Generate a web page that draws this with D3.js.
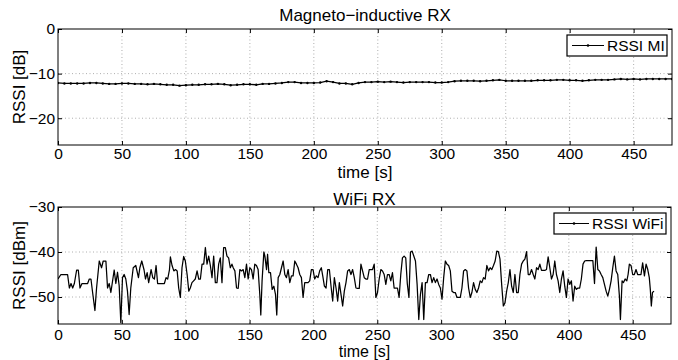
<!DOCTYPE html>
<html><head><meta charset="utf-8">
<script src="https://cdn.jsdelivr.net/npm/d3@7"></script>
<style>
body{margin:0;background:#fff;}
svg text{font-family:"Liberation Sans",Arial,Helvetica,sans-serif;fill:#000;}
</style></head>
<body><svg id="c" width="678" height="360"></svg>
<script>
// ---- data ----
const miTime = [0,5,10,15,20,25,30,35,40,45,50,55,60,65,70,75,80,85,90,95,100,105,110,115,120,125,130,135,140,145,150,155,160,165,170,175,180,185,190,195,200,205,210,215,220,225,230,235,240,245,250,255,260,265,270,275,280,285,290,295,300,305,310,315,320,325,330,335,340,345,350,355,360,365,370,375,380,385,390,395,400,405,410,415,420,425,430,435,440,445,450,455,460,465,470,475,480];
const miRssi = [-12.1,-12.2,-12.2,-12.2,-12.2,-12.1,-12.1,-12.2,-12.3,-12.3,-12.2,-12.2,-12.3,-12.3,-12.4,-12.3,-12.4,-12.5,-12.5,-12.7,-12.6,-12.5,-12.5,-12.4,-12.4,-12.3,-12.4,-12.6,-12.5,-12.4,-12.4,-12.5,-12.3,-12.3,-12.2,-12.1,-11.9,-11.9,-12.1,-12.1,-12.1,-12.0,-11.7,-11.9,-12.2,-12.2,-12.4,-12.1,-11.9,-11.9,-11.8,-11.9,-11.8,-11.9,-12.0,-11.9,-11.9,-11.9,-11.9,-12.0,-12.0,-11.9,-11.7,-11.6,-11.6,-11.6,-11.7,-11.6,-11.5,-11.4,-11.6,-11.6,-11.6,-11.6,-11.6,-11.5,-11.5,-11.5,-11.4,-11.4,-11.5,-11.5,-11.6,-11.5,-11.4,-11.4,-11.4,-11.3,-11.2,-11.3,-11.2,-11.3,-11.2,-11.2,-11.2,-11.2,-11.2];

const wifiTime = [0,2.3,5,7.5,8.9,10.2,11.5,12.8,14.6,15.9,17.2,18.8,20.6,23.2,24.5,25.8,27.1,28.9,30.2,32.3,34.1,35.4,37.5,38.8,40.1,41.4,42.7,44,45.3,46.6,47.9,49.2,50.5,51.8,53.1,54.4,55.7,57,58.9,60.9,63,64.1,65.6,67.4,
68.5,69.8,71,72.9,74.2,75.5,76.8,78,80.2,83.3,84.6,85.9,87.3,88,89.3,90.7,92,93.3,94.5,95.8,97.1,98.4,99.7,101.1,102.4,103.6,104.9,106.2,107.5,108.9,110.2,111.5,112.8,114.1,115.4,116.7,118,119.3,120.6,121.9,123.2,124.5,125.8,127.1,128.4,129.7,131,132.3,133.6,134.9,136.2,
137.2,138.5,139.8,141.1,142.4,143.7,145,146.3,147.6,148.9,150.2,151.5,152.8,154.1,155.4,156.7,158,158.8,159.8,161.2,162,163.3,164.1,165.1,166.4,167.7,169,170.3,171.3,172.4,173.7,175,176.3,177.6,178.9,180.2,181.5,182.8,184.1,185.4,186.7,188,189.3,190.6,191.9,193.2,194.5,195.8,197.1,198.4,199.7,201,202.3,203.6,204.9,206.2,
207.3,208.6,209.9,211.2,212.5,213.8,215.1,216.4,217.7,219,220.3,221.6,222.9,224.2,225.5,226.8,228.1,229.4,230.7,232,233.3,234.6,235.9,237.2,238.5,239.8,241.1,242.4,243.7,245,246.3,247.6,248.9,250.2,251.5,252.8,254.1,255.4,256.7,258,259.3,260.6,261.9,263.2,264.5,265.8,267.1,268.4,269.7,271,272.3,
273.5,274.8,276,277.3,278.6,279.9,281.2,282.5,283.8,285.1,286.4,287.7,289,290.3,291.6,292.9,294.2,295.5,296.8,298.1,299.4,300.7,302,303.3,304.6,305.9,307.2,308.5,309.8,311.1,312.4,313.7,315,316.3,317.6,318.9,320.2,321.5,322.8,324.1,325.4,326.7,328,329.3,330.6,331.9,333.2,334.5,335.8,337.1,338.4,339.7,341,342.3,343.6,
344.8,346.1,347.4,348.7,350,351.3,352.6,353.9,355.2,356.5,357.8,359.1,360.4,361.7,363,364.3,365.6,366.9,368.2,369.5,370.8,372.1,373.4,374.7,376,377.3,378.6,379.9,381.2,382.5,383.8,385.1,386.4,387.7,389,390.3,391.6,392.9,394.2,395.5,396.8,398.1,399.4,400.7,402,403.3,404.6,405.9,407.2,408.5,409.8,411.1,412.4,
413.6,414.9,416.2,417.5,418.8,420.1,421.4,422.7,424,425.3,426.6,427.9,429.2,430.5,431.8,433.1,434.4,435.7,437,438.3,439.6,440.4,441.7,442.8,444.1,445.4,446.4,447.4,448.7,450,451.3,452.6,453.9,455.2,456.5,457.8,459.2,460.5,461.8,463,463.8,464.6,465.5,466.7];
const wifiRssi = [-46,-45,-45,-45,-48,-47,-48,-47,-44,-44,-48,-47,-47,-47,-46,-46,-49,-53,-48,-42,-43.5,-42,-42,-48,-47,-49,-46.5,-44,-47,-44.5,-47.5,-55.7,-45.7,-45,-46,-48.7,-53.9,-48,-43.5,-43,-45.7,-43.5,-42,-44,
-46,-44.6,-46.8,-43.9,-45.7,-46,-43,-47,-47,-47,-45.7,-46,-43.9,-41.1,-43,-44.2,-43.9,-44.2,-48,-50.1,-43.5,-41,-42,-45,-48.7,-48,-46.8,-46.4,-46,-44.2,-46,-46,-42.7,-42.7,-39,-42.7,-40.9,-43,-45.7,-40.9,-46.8,-46.8,-42.7,-41.3,-46.8,-39,-39,-40.9,-41.3,-43.5,-42.7,
-43.5,-44.2,-48,-48.1,-43.9,-44.2,-43.9,-45.7,-42.7,-46,-43.5,-43.9,-46,-42.7,-43,-43.9,-49.4,-54,-46.4,-40,-40.9,-43.9,-40.5,-44.6,-44.6,-48.3,-47.6,-49.4,-54,-45.7,-45,-43.5,-42,-45,-45.7,-43.9,-46.8,-45.3,-45.3,-42,-42.7,-43.5,-45,-45.7,-50.1,-46.8,-46.8,-46.8,-46.4,-43.9,-43.9,-46,-45.3,-45.7,-44.2,-43.5,
-45.3,-47.6,-48,-43.9,-43.9,-47.6,-50.9,-45.7,-48,-50.9,-46.8,-49.4,-52,-48.7,-46.8,-44.2,-43.9,-45,-43.9,-45.7,-48,-48.1,-48.1,-42.7,-44.2,-45.7,-46,-46,-43.9,-43.9,-43.9,-42.7,-50.1,-49,-46,-43.9,-44.2,-45,-47.2,-45,-45,-46.4,-44.6,-48,-48,-48,-50.1,-45,-41.3,-40.9,-41.3,
-47,-50.1,-40,-39.8,-40.9,-42,-47.2,-55,-49.4,-46.8,-55,-46.8,-46.8,-45,-45,-46.8,-45.7,-46.8,-46,-47.2,-48,-50.5,-45.7,-42,-42.7,-43,-44.2,-48.7,-49,-49,-50.1,-50.1,-50.1,-48,-44.2,-43.9,-44.2,-48,-50.1,-49,-46.8,-48.3,-49,-48,-46.4,-46.8,-45.7,-46,-43,-44.2,-43.5,-43.9,-43,-42,-39.8,
-39.9,-41.6,-47.2,-52,-51.3,-48.7,-46.8,-43.9,-47.6,-49,-45,-49,-49,-45,-42.7,-42,-41.6,-39.9,-45,-45,-43.9,-45,-46,-43.5,-43.9,-42.7,-44.1,-44.1,-44.1,-43.9,-41.1,-43.5,-46,-45,-42,-45,-46.4,-49,-46,-44.2,-47.6,-50.1,-46,-47.2,-46.4,-50.9,-47.6,-48.3,-48,-48,-46,-42.7,-42,
-41.9,-41.9,-41.9,-41.9,-41.9,-47,-38.9,-43.9,-44.2,-45,-45.7,-47.2,-48.7,-49.8,-48.3,-46.4,-43.5,-40.9,-44.2,-45,-49.8,-55,-46.4,-46.8,-46,-46.4,-45,-42.7,-43,-45,-45,-43.9,-45,-45,-45,-42.4,-45.3,-42.7,-43.9,-45.7,-48.3,-52,-49,-48.7];

const xTicks = [0,50,100,150,200,250,300,350,400,450];
const miYTicks = [0,-10,-20];
const wifiYTicks = [-30,-40,-50];

// ---- drawing ----
const svg = d3.select("#c");
const fmt = d => d < 0 ? "\u2212" + Math.abs(d) : String(d);
const TICK_FS = 15.5, LABEL_FS = 17;

function panel(cfg){
  const {top,bottom,left,right,yDomain,yTicks,title,titleY,ylabel,tickY,xlabelY,xlabelFs,time,vals,legend,legBox,markers} = cfg;
  const x = d3.scaleLinear().domain([0,480]).range([left,right]);
  const y = d3.scaleLinear().domain(yDomain).range([bottom,top]);
  const g = svg.append("g");
  // grid
  g.selectAll(".gx").data(xTicks.filter(t=>t>0)).join("line")
    .attr("x1",d=>x(d)).attr("x2",d=>x(d)).attr("y1",top).attr("y2",bottom)
    .attr("stroke","#999").attr("stroke-width",0.8).attr("stroke-dasharray","1,2.5");
  g.selectAll(".gy").data(yTicks.filter(t=>y(t)>top+1)).join("line")
    .attr("x1",left).attr("x2",right).attr("y1",d=>y(d)).attr("y2",d=>y(d))
    .attr("stroke","#999").attr("stroke-width",0.8).attr("stroke-dasharray","1,2.5");
  // data
  const line = d3.line().x((d,i)=>x(time[i])).y(d=>y(d));
  const clipId = "clip"+top;
  svg.append("clipPath").attr("id",clipId).append("rect")
    .attr("x",left).attr("y",top).attr("width",right-left).attr("height",bottom-top);
  const dg = g.append("g").attr("clip-path",`url(#${clipId})`);
  dg.append("path").datum(vals).attr("d",line).attr("fill","none")
    .attr("stroke","#000").attr("stroke-width",1.25).attr("stroke-linejoin","round");
  if(markers){
    dg.selectAll("circle").data(vals).join("circle")
      .attr("cx",(d,i)=>x(time[i])).attr("cy",d=>y(d)).attr("r",1.2).attr("fill","#000");
  }
  // axes: ticks inward on all sides
  const tl = 4;
  const xb = d3.axisBottom(x).tickValues(xTicks).tickFormat(fmt).tickSizeInner(-tl).tickSizeOuter(0).tickPadding(0);
  const ax = g.append("g").attr("transform",`translate(0,${bottom})`).call(xb);
  ax.select(".domain").remove();
  ax.selectAll("text").attr("font-size",TICK_FS).attr("dy",null).attr("y",tickY-bottom);
  const xt = d3.axisTop(x).tickValues(xTicks).tickFormat("").tickSizeInner(-tl).tickSizeOuter(0);
  const axt = g.append("g").attr("transform",`translate(0,${top})`).call(xt);
  axt.select(".domain").remove();
  const yl = d3.axisLeft(y).tickValues(yTicks).tickFormat(fmt).tickSizeInner(-tl).tickSizeOuter(0).tickPadding(3);
  const ayl = g.append("g").attr("transform",`translate(${left},0)`).call(yl);
  ayl.select(".domain").remove();
  ayl.selectAll("text").attr("font-size",TICK_FS);
  const yr = d3.axisRight(y).tickValues(yTicks).tickFormat("").tickSizeInner(-tl).tickSizeOuter(0);
  const ayr = g.append("g").attr("transform",`translate(${right},0)`).call(yr);
  ayr.select(".domain").remove();
  g.selectAll(".tick line").attr("stroke","#000");
  // box
  g.append("rect").attr("x",left).attr("y",top).attr("width",right-left).attr("height",bottom-top)
    .attr("fill","none").attr("stroke","#000").attr("stroke-width",1);
  // title & labels
  g.append("text").attr("x",(left+right)/2).attr("y",titleY).attr("text-anchor","middle")
    .attr("font-size",LABEL_FS).text(title);
  g.append("text").attr("x",(left+right)/2).attr("y",xlabelY).attr("text-anchor","middle")
    .attr("font-size",xlabelFs).text("time [s]");
  g.append("text").attr("transform",`translate(25,${(top+bottom)/2}) rotate(-90)`)
    .attr("text-anchor","middle").attr("font-size",LABEL_FS).text(ylabel);
  // legend
  const [lx0,ly0,lx1,ly1,lineEnd] = legBox;
  g.append("rect").attr("x",lx0).attr("y",ly0).attr("width",lx1-lx0).attr("height",ly1-ly0)
    .attr("fill","#fff").attr("stroke","#000").attr("stroke-width",1.2);
  const ly = (ly0+ly1)/2;
  g.append("line").attr("x1",lx0+5).attr("x2",lineEnd).attr("y1",ly).attr("y2",ly)
    .attr("stroke","#000").attr("stroke-width",1);
  g.append("circle").attr("cx",(lx0+5+lineEnd)/2).attr("cy",ly).attr("r",1.3).attr("fill","#000");
  g.append("text").attr("x",lineEnd+3).attr("y",ly+5.5).attr("font-size",TICK_FS).text(legend);
}

panel({top:29,bottom:145,left:58,right:672,yDomain:[-26,0],yTicks:miYTicks,
  title:"Magneto\u2212inductive RX",titleY:21,ylabel:"RSSI [dB]",tickY:159,xlabelY:178,xlabelFs:17,
  time:miTime,vals:miRssi,legend:"RSSI MI",legBox:[567,35,667,56,604],markers:true});
panel({top:207,bottom:324,left:58,right:671,yDomain:[-56,-30],yTicks:wifiYTicks,
  title:"WiFi RX",titleY:205,ylabel:"RSSI [dBm]",tickY:340,xlabelY:357,xlabelFs:16,
  time:wifiTime,vals:wifiRssi,legend:"RSSI WiFi",legBox:[554,213,666,234,589],markers:false});
</script></body></html>
